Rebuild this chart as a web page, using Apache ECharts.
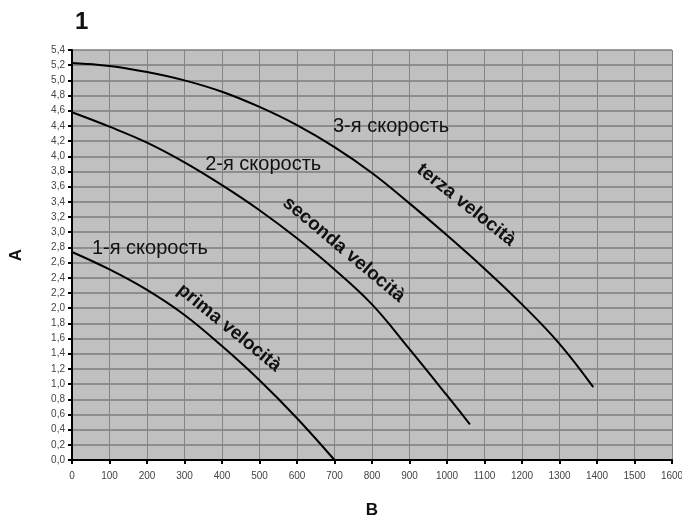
<!DOCTYPE html>
<html>
<head>
<meta charset="utf-8">
<script src="https://cdn.jsdelivr.net/npm/echarts@6/dist/echarts.min.js"></script>
<style>html,body{margin:0;padding:0;background:#fff}#c{width:682px;height:519px}</style>
</head>
<body>
<div id="c"></div>
<script>
// Data
const curve1X = [0, 100, 200, 300, 400, 500, 600, 700];
const curve1Y = [2.74, 2.51, 2.24, 1.91, 1.50, 1.05, 0.55, 0.0];
const curve2X = [0, 100, 200, 300, 400, 500, 600, 700, 800, 900, 1000, 1061];
const curve2Y = [4.58, 4.39, 4.18, 3.92, 3.62, 3.29, 2.92, 2.51, 2.05, 1.46, 0.85, 0.47];
const curve3X = [0, 100, 200, 300, 400, 500, 600, 700, 800, 900, 1000, 1100, 1200, 1300, 1390];
const curve3Y = [5.23, 5.19, 5.11, 5.00, 4.85, 4.65, 4.41, 4.12, 3.78, 3.38, 2.96, 2.52, 2.05, 1.53, 0.96];
const seriesNames = ['1-я скорость', '2-я скорость', '3-я скорость'];
const italianNames = ['prima velocità', 'seconda velocità', 'terza velocità'];
const chartTitle = '1';
const xAxisName = 'B';
const yAxisName = 'A';

// annotation anchors in data coordinates (text placement)
const ruLabelPos = [[53, 2.78], [355, 3.89], [696, 4.39]];
const itLabelPos = [[419, 1.74], [725, 2.77], [1051, 3.36]];
const itLabelAngle = [-39, -40, -38.5];

function pairs(xs, ys) { return xs.map((x, i) => [x, ys[i]]); }

const chart = echarts.init(document.getElementById('c'), null, {renderer: 'canvas'});
const FONT = 'Liberation Sans, Arial, sans-serif';
const curves = [pairs(curve1X, curve1Y), pairs(curve2X, curve2Y), pairs(curve3X, curve3Y)];

chart.setOption({
  backgroundColor: '#fff',
  animation: false,
  title: {
    text: chartTitle, left: 70, top: 5,
    textStyle: {fontFamily: FONT, fontSize: 24, fontWeight: 'bold', color: '#111'}
  },
  grid: {
    left: 72, right: 10, top: 50, bottom: 59,
    outerBoundsMode: 'none', containLabel: false,
    show: true, backgroundColor: '#c0c0c0', borderWidth: 0
  },
  xAxis: {
    type: 'value', min: 0, max: 1600, interval: 100,
    name: xAxisName, nameLocation: 'middle', nameGap: 42,
    nameTextStyle: {fontFamily: FONT, fontSize: 17, fontWeight: 'bold', color: '#111'},
    axisLine: {show: true, onZero: false, lineStyle: {color: '#000', width: 2}},
    axisTick: {show: true, length: 4, lineStyle: {color: '#000', width: 2}},
    axisLabel: {fontFamily: FONT, fontSize: 10, color: '#444', margin: 11,
                formatter: v => String(v)},
    splitLine: {show: true, lineStyle: {color: '#858585', width: 1}}
  },
  yAxis: {
    type: 'value', min: 0, max: 5.4, interval: 0.2,
    name: yAxisName, nameLocation: 'middle', nameGap: 47, nameRotate: 90,
    nameTextStyle: {fontFamily: FONT, fontSize: 17, fontWeight: 'bold', color: '#111'},
    axisLine: {show: true, onZero: false, lineStyle: {color: '#000', width: 2}},
    axisTick: {show: true, length: 4, lineStyle: {color: '#000', width: 2}},
    axisLabel: {
      fontFamily: FONT, fontSize: 10, color: '#444', margin: 7,
      formatter: v => v.toFixed(1).replace('.', ',')
    },
    splitLine: {show: true, lineStyle: {color: '#7c7c7c', width: 1.5}}
  },
  series: curves.map((d, i) => ({
    type: 'line', name: seriesNames[i], data: d, smooth: 0.4,
    symbol: 'none', lineStyle: {color: '#000', width: 2}, z: 5
  }))
});

const graphics = [];
ruLabelPos.forEach((p, i) => {
  const px = chart.convertToPixel({gridIndex: 0}, p);
  graphics.push({
    type: 'text', x: px[0], y: px[1], z: 10,
    style: {text: seriesNames[i], font: '20px ' + FONT, fill: '#111',
            textAlign: 'left', textVerticalAlign: 'middle'}
  });
});
itLabelPos.forEach((p, i) => {
  const px = chart.convertToPixel({gridIndex: 0}, p);
  graphics.push({
    type: 'text', x: px[0], y: px[1], z: 10,
    rotation: itLabelAngle[i] * Math.PI / 180,
    style: {text: italianNames[i], font: 'bold 19px ' + FONT, fill: '#111',
            textAlign: 'center', textVerticalAlign: 'middle'}
  });
});
chart.setOption({graphic: graphics});
</script>
</body>
</html>
